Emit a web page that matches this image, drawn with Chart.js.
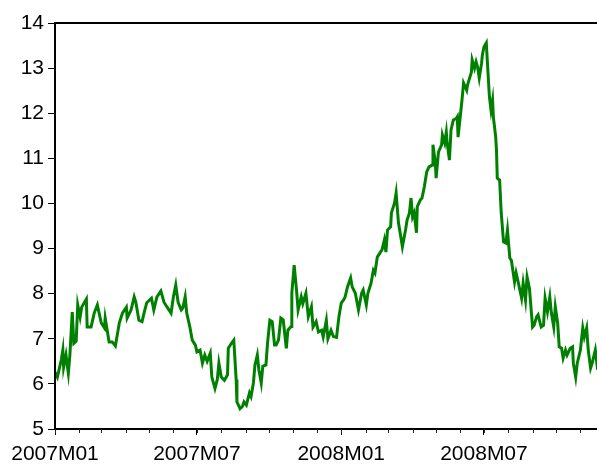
<!DOCTYPE html>
<html>
<head>
<meta charset="utf-8">
<script src="https://cdn.jsdelivr.net/npm/chart.js@4/dist/chart.umd.min.js"></script>
<style>
  html, body { margin: 0; padding: 0; overflow: hidden; background: #fff; }
  #wrap { width: 600px; height: 466px; position: relative; }
</style>
</head>
<body>
<div id="wrap"><canvas id="c"></canvas></div>
<script>
// series: days since 2007-01-01 and value
const dayOffsets = [
  0, 3, 8, 10, 11, 14, 17, 19, 22, 24, 27, 29, 32, 34, 40, 41, 46, 50, 54, 59,
  63, 64, 69, 73, 77, 82, 86, 91, 92, 97, 101, 103, 107, 111, 114, 117, 123, 126, 130, 135,
  139, 143, 148, 151, 154, 157, 161, 163, 166, 168, 172, 175, 179, 181, 185, 188, 191, 194, 198, 200,
  204, 207, 209, 212, 216, 220, 221, 225, 228, 231, 232, 236, 239, 241, 244, 248, 250, 253, 255, 258,
  260, 263, 265, 269, 271, 274, 277, 280, 282, 285, 288, 291, 295, 297, 301, 302, 305, 308, 310, 314,
  316, 320, 323, 327, 329, 333, 336, 340, 342, 346, 348, 352, 355, 359, 362, 365, 368, 370, 373, 377,
  379, 383, 387, 391, 393, 397, 399, 403, 406, 408, 411, 415, 417, 420, 422, 424, 428, 429, 433, 435,
  438, 442, 443, 447, 449, 452, 454, 456, 458, 461, 462, 466, 468, 471, 474, 477, 481, 482, 485, 486,
  489, 493, 494, 497, 499, 500, 503, 505, 508, 512, 513, 514, 517, 519, 521, 525, 526, 528, 531, 532,
  535, 537, 539, 541, 544, 545, 547, 550, 551, 554, 556, 558, 559, 562, 563, 564, 567, 569, 572, 575,
  577, 580, 582, 586, 588, 591, 595, 597, 600, 602, 605, 609, 611, 614, 616, 620, 623, 625, 628, 631,
  633, 636, 638, 641, 643, 646, 648, 651, 653, 657, 660, 661, 664, 666, 670, 673, 675, 678, 680, 683,
  685, 689, 692
];
const values = [
  6.26, 6.15, 6.53, 6.75, 6.37, 6.64, 6.24, 6.64, 7.59, 6.90, 6.95, 7.75, 7.48, 7.70, 7.88, 7.26, 7.26, 7.57, 7.75, 7.35,
  7.24, 7.46, 6.93, 6.93, 6.84, 7.35, 7.57, 7.70, 7.46, 7.64, 7.93, 7.82, 7.41, 7.38, 7.60, 7.80, 7.90, 7.64, 7.93, 8.06,
  7.81, 7.70, 7.57, 7.93, 8.19, 7.81, 7.64, 7.68, 7.93, 7.57, 7.26, 6.97, 6.86, 6.71, 6.75, 6.46, 6.64, 6.50, 6.68, 6.15,
  5.90, 6.10, 6.46, 6.15, 6.08, 6.20, 6.79, 6.90, 6.97, 6.10, 5.60, 5.45, 5.50, 5.60, 5.53, 5.80, 5.72, 6.02, 6.42, 6.64,
  6.31, 6.02, 6.39, 6.42, 6.90, 7.41, 7.38, 6.86, 6.86, 6.97, 7.46, 7.42, 6.79, 7.19, 7.27, 8.01, 8.63, 8.08, 7.64, 7.93,
  7.78, 8.01, 7.49, 7.71, 7.26, 7.38, 7.15, 7.19, 7.04, 7.41, 7.00, 7.19, 7.05, 7.03, 7.48, 7.79, 7.86, 7.93, 8.15, 8.35,
  8.15, 8.01, 7.64, 8.01, 8.08, 7.75, 8.01, 8.23, 8.52, 8.46, 8.81, 8.92, 8.97, 9.19, 8.92, 9.41, 9.48, 9.79, 10.01, 10.23,
  9.57, 9.15, 9.04, 9.41, 9.63, 9.79, 10.12, 9.70, 9.79, 9.35, 9.93, 10.08, 10.12, 10.37, 10.70, 10.81, 10.85, 11.30, 10.90, 10.56,
  11.14, 11.30, 11.52, 11.34, 11.58, 11.36, 10.96, 11.63, 11.85, 11.89, 11.92, 11.47, 11.96, 12.29, 12.67, 12.51, 12.62, 12.74, 12.91, 13.18,
  13.00, 13.14, 13.02, 12.78, 13.11, 13.29, 13.47, 13.56, 13.25, 12.36, 12.07, 12.29, 11.92, 11.47, 11.18, 10.56, 10.52, 9.80, 9.15, 9.12,
  9.41, 8.79, 8.74, 8.26, 8.46, 8.23, 7.90, 8.23, 7.86, 8.37, 8.12, 7.26, 7.30, 7.48, 7.53, 7.26, 7.30, 7.90, 7.60, 7.93,
  7.57, 7.26, 7.71, 7.35, 6.82, 6.79, 6.57, 6.75, 6.64, 6.79, 6.82, 6.46, 6.15, 6.46, 6.75, 7.24, 7.04, 7.24, 6.75, 6.35,
  6.46, 6.75, 6.31
];
const majorLabels = ['2007M01', '2007M07', '2008M01', '2008M07'];
const yMin = 5, yMax = 14;
const xMaxDay = 695;

const DAY = 86400000;
const t0 = Date.UTC(2007, 0, 1);
function monthStart(y, m) { return (Date.UTC(y, m, 1) - t0) / DAY; }
function labelToDay(s) { return monthStart(+s.slice(0, 4), +s.slice(5) - 1); }

const majorTicks = majorLabels.map(labelToDay);
const monthTicks = [];
for (let m = 0; m < 24; m++) {
  const d = monthStart(2007, m);
  if (d <= xMaxDay) monthTicks.push(d);
}

const points = dayOffsets.map((d, i) => ({ x: d, y: values[i] }));

// frame on top and minor month ticks below the axis
const framePlugin = {
  id: 'frame',
  afterDraw(chart) {
    const ctx = chart.ctx;
    const a = chart.chartArea;
    const xs = chart.scales.x;
    ctx.save();
    ctx.strokeStyle = '#000';
    ctx.lineWidth = 2;
    ctx.strokeRect(a.left, a.top, a.right - a.left, a.bottom - a.top);
    ctx.lineWidth = 1;
    ctx.strokeStyle = '#222';
    monthTicks.forEach(d => {
      const px = Math.round(xs.getPixelForValue(d)) + 0.5;
      ctx.beginPath();
      ctx.moveTo(px, a.bottom);
      ctx.lineTo(px, a.bottom + 4);
      ctx.stroke();
    });
    ctx.restore();
  }
};

const font = { family: '"Liberation Sans", Arial, sans-serif', size: 21 };

new Chart(document.getElementById('c'), {
  type: 'line',
  data: {
    datasets: [{
      data: points,
      borderColor: '#008000',
      borderWidth: 3,
      pointRadius: 0,
      tension: 0,
      fill: false
    }]
  },
  options: {
    responsive: true,
    maintainAspectRatio: false,
    animation: false,
    events: [],
    layout: { padding: { top: 23, right: 0, left: 0, bottom: 0 } },
    plugins: { legend: { display: false }, tooltip: { enabled: false } },
    scales: {
      x: {
        type: 'linear',
        min: 0,
        max: xMaxDay,
        afterBuildTicks: s => { s.ticks = majorTicks.map(v => ({ value: v })); },
        afterFit: s => { s.height = 37; },
        ticks: {
          autoSkip: false,
          maxRotation: 0,
          color: '#000',
          font: font,
          padding: 7,
          callback: v => majorLabels[majorTicks.indexOf(v)] || ''
        },
        grid: { drawOnChartArea: false, tickLength: 6, tickColor: '#000', tickWidth: 1 },
        border: { display: true, color: '#000', width: 2 }
      },
      y: {
        min: yMin,
        max: yMax,
        afterFit: s => { s.width = 55; },
        ticks: { stepSize: 1, color: '#000', font: font, padding: 4 },
        grid: { drawOnChartArea: false, tickLength: 7, tickColor: '#000', tickWidth: 1 },
        border: { display: true, color: '#000', width: 2 }
      }
    }
  },
  plugins: [framePlugin]
});
</script>
</body>
</html>
